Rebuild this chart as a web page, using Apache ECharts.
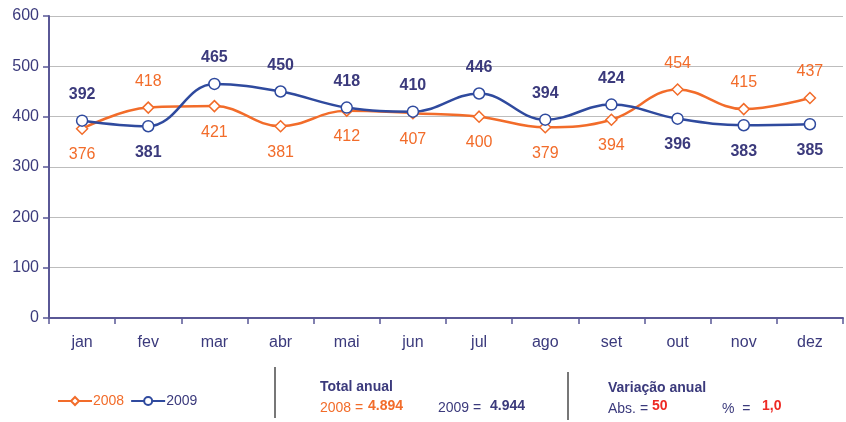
<!DOCTYPE html>
<html>
<head>
<meta charset="utf-8">
<script src="https://cdn.jsdelivr.net/npm/echarts@6/dist/echarts.min.js"></script>
<style>
  html, body { margin: 0; padding: 0; background: #fff; }
  #chart { width: 846px; height: 422px; }
</style>
</head>
<body>
<div id="chart"></div>
<script>
const months = ['jan', 'fev', 'mar', 'abr', 'mai', 'jun', 'jul', 'ago', 'set', 'out', 'nov', 'dez']
const values2008 = [376, 418, 421, 381, 412, 407, 400, 379, 394, 454, 415, 437]
const values2009 = [392, 381, 465, 450, 418, 410, 446, 394, 424, 396, 383, 385]
// onde fica o rótulo de cada ponto (acima / abaixo)
const pos2008 = ['bottom', 'top', 'bottom', 'bottom', 'bottom', 'bottom', 'bottom', 'bottom', 'bottom', 'top', 'top', 'top']
const pos2009 = ['top', 'bottom', 'top', 'top', 'top', 'top', 'top', 'top', 'top', 'bottom', 'bottom', 'bottom']
const total2008 = '4.894'
const total2009 = '4.944'
const varAbs = '50'
const varPct = '1,0'

const FONT = '"Liberation Sans Narrow", "Arial Narrow", "Liberation Sans", sans-serif'
const ORANGE = '#f26c2a'
const BLUE = '#2f4a9e'
const NAVY = '#3b3a7c'
const RED = '#ee2a24'

const mkData = (vals, pos, color) =>
	vals.map((v, i) => ({
		value: v,
		label: { position: pos[i], color: color }
	}))

const chart = echarts.init(document.getElementById('chart'))

const option = {
	animation: false,
	textStyle: { fontFamily: FONT },
	grid: { left: 49, right: 3, top: 16, bottom: 104 },
	legend: {
		left: 52,
		top: 389,
		itemWidth: 34,
		itemHeight: 10,
		itemGap: 6,
		textStyle: { fontFamily: FONT, fontSize: 14, padding: [0, 0, 0, -4] },
		data: [
			{ name: '2008', textStyle: { color: ORANGE } },
			{ name: '2009', textStyle: { color: NAVY } }
		]
	},
	xAxis: {
		type: 'category',
		data: months,
		boundaryGap: true,
		axisLine: { lineStyle: { color: '#5a5896', width: 2 } },
		axisTick: { show: true, length: 6, lineStyle: { color: '#5a5896', width: 1.5 } },
		axisLabel: { color: NAVY, fontSize: 16, margin: 17, fontFamily: FONT }
	},
	yAxis: {
		type: 'value',
		min: 0,
		max: 600,
		interval: 100,
		axisLine: { show: true, lineStyle: { color: '#5a5896', width: 2 } },
		axisTick: { show: true, length: 6, lineStyle: { color: '#5a5896', width: 1.5 } },
		axisLabel: { color: NAVY, fontSize: 16, margin: 10, fontFamily: FONT },
		splitLine: { lineStyle: { color: '#bdbdbd', width: 1 } }
	},
	series: [
		{
			name: '2008',
			type: 'line',
			smooth: 0.4,
			symbol: 'diamond',
			symbolSize: 11,
			data: mkData(values2008, pos2008, ORANGE),
			lineStyle: { color: ORANGE, width: 2.5 },
			itemStyle: { color: '#fff', borderColor: ORANGE, borderWidth: 1.5 },
			label: { show: true, distance: 12, fontSize: 16, fontFamily: FONT }
		},
		{
			name: '2009',
			type: 'line',
			smooth: 0.4,
			symbol: 'circle',
			symbolSize: 11,
			data: mkData(values2009, pos2009, NAVY),
			lineStyle: { color: BLUE, width: 2.5 },
			itemStyle: { color: '#fff', borderColor: BLUE, borderWidth: 1.5 },
			label: { show: true, distance: 12, fontSize: 16, fontWeight: 'bold', fontFamily: FONT }
		}
	],
	graphic: [
		{ type: 'line', shape: { x1: 275, y1: 367, x2: 275, y2: 418 }, style: { stroke: '#777', lineWidth: 2 } },
		{ type: 'line', shape: { x1: 568, y1: 372, x2: 568, y2: 420 }, style: { stroke: '#777', lineWidth: 2 } },
		{ type: 'text', left: 320, top: 380, style: { text: 'Total anual', fill: NAVY, font: 'bold 14px ' + FONT } },
		{ type: 'text', left: 320, top: 401, style: { text: '2008 =', fill: ORANGE, font: '14px ' + FONT } },
		{ type: 'text', left: 368, top: 399, style: { text: total2008, fill: ORANGE, font: 'bold 14px ' + FONT } },
		{ type: 'text', left: 438, top: 401, style: { text: '2009 =', fill: NAVY, font: '14px ' + FONT } },
		{ type: 'text', left: 490, top: 399, style: { text: total2009, fill: NAVY, font: 'bold 14px ' + FONT } },
		{ type: 'text', left: 608, top: 381, style: { text: 'Variação anual', fill: NAVY, font: 'bold 14px ' + FONT } },
		{ type: 'text', left: 608, top: 402, style: { text: 'Abs. =', fill: NAVY, font: '14px ' + FONT } },
		{ type: 'text', left: 652, top: 399, style: { text: varAbs, fill: RED, font: 'bold 14px ' + FONT } },
		{ type: 'text', left: 722, top: 402, style: { text: '%  =', fill: NAVY, font: '14px ' + FONT } },
		{ type: 'text', left: 762, top: 399, style: { text: varPct, fill: RED, font: 'bold 14px ' + FONT } }
	]
}

chart.setOption(option)
</script>
</body>
</html>
